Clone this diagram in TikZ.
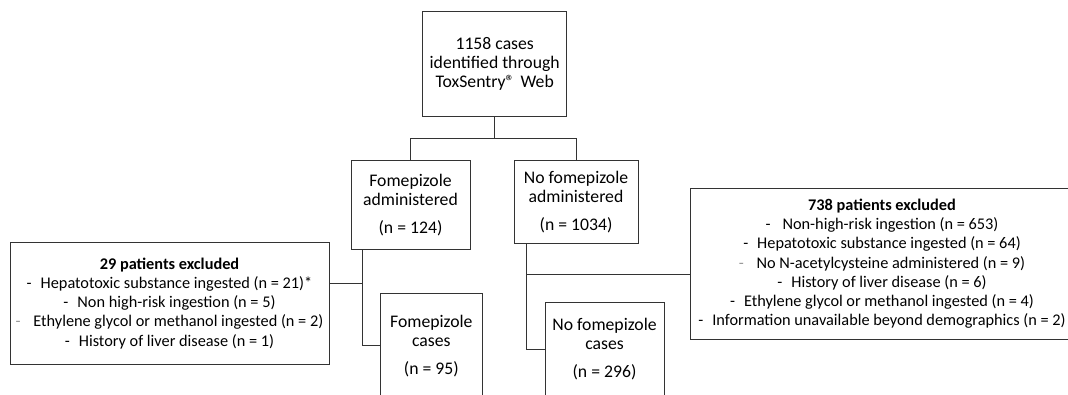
\documentclass[tikz,border=0pt]{standalone}
\usepackage{fontspec}
\setmainfont{Carlito}
\usetikzlibrary{calc}
\newcommand{\dsh}[1][black]{\textcolor{#1}{-}\hspace{9pt}}
\begin{document}
\begin{tikzpicture}[x=1pt,y=-1pt,
  box/.style={draw=black!80,line width=0.9pt,align=center,inner sep=0pt,
    font=\fontsize{17.7}{19}\selectfont},
  exbox/.style={box,font=\fontsize{16.3}{19.2}\selectfont},
  conn/.style={draw=black!80,line width=0.8pt}]
\path[use as bounding box] (0,0) rectangle (1068,395);
\clip (0,0) rectangle (1068,395);
\fill[white] (0,0) rectangle (1068,395);
\node[box,minimum width=144pt,minimum height=105pt] (top) at (494.7,64.3)
  {1158 cases\\identified through\\ToxSentry\textregistered\hspace{6pt}Web};
\node[box,minimum width=119pt,minimum height=88.6pt] (fa) at (410.5,205)
  {Fomepizole\\administered\\[9pt](n = 124)};
\node[box,minimum width=124pt,minimum height=83pt] (nfa) at (576,202.2)
  {No fomepizole\\administered\\[9pt](n = 1034)};
\node[box,minimum width=101.3pt,minimum height=105pt] (fc) at (431.3,345.8)
  {Fomepizole\\cases\\[9pt](n = 95)};
\node[box,minimum width=119pt,minimum height=94pt] (nfc) at (604.5,349.2)
  {No fomepizole\\cases\\[9pt](n = 296)};
\node[exbox,minimum width=319pt,minimum height=121.3pt] (ex1) at (169.5,303.3)
  {\textbf{29 patients excluded}\\
   \dsh Hepatotoxic substance ingested (n = 21)*\\
   \dsh Non high-risk ingestion (n = 5)\\
   \dsh[black!40] Ethylene glycol or methanol ingested (n = 2)\\
   \dsh History of liver disease (n = 1)};
\node[exbox,minimum width=384pt,minimum height=151pt] (ex2) at (882,263.8)
  {\textbf{738 patients excluded}\\
   \dsh\hspace{3pt}Non-high-risk ingestion (n = 653)\\
   \dsh Hepatotoxic substance ingested (n = 64)\\
   \dsh[black!40] No N-acetylcysteine administered (n = 9)\\
   \dsh History of liver disease (n = 6)\\
   \dsh Ethylene glycol or methanol ingested (n = 4)\\
   \dsh Information unavailable beyond demographics (n = 2)};
\coordinate (j) at (494.7,138.5);
\coordinate (bl) at ($(fa.south west)+(12.3,0)$);
\coordinate (bl2) at ($(bl)+(0,33.4)$);
\coordinate (br) at ($(nfa.south west)+(12.7,0)$);
\coordinate (br2) at ($(br)+(0,30.3)$);
\draw[conn] (top.south) -- (j);
\draw[conn] (fa.north) -- (fa.north |- j) -- (nfa.north |- j) -- (nfa.north);
\draw[conn] (bl) |- (fc.west);
\draw[conn] (bl2) -- (ex1.east |- bl2);
\draw[conn] (br) |- (nfc.west);
\draw[conn] (br2) -- (ex2.west |- br2);
\end{tikzpicture}
\end{document}
